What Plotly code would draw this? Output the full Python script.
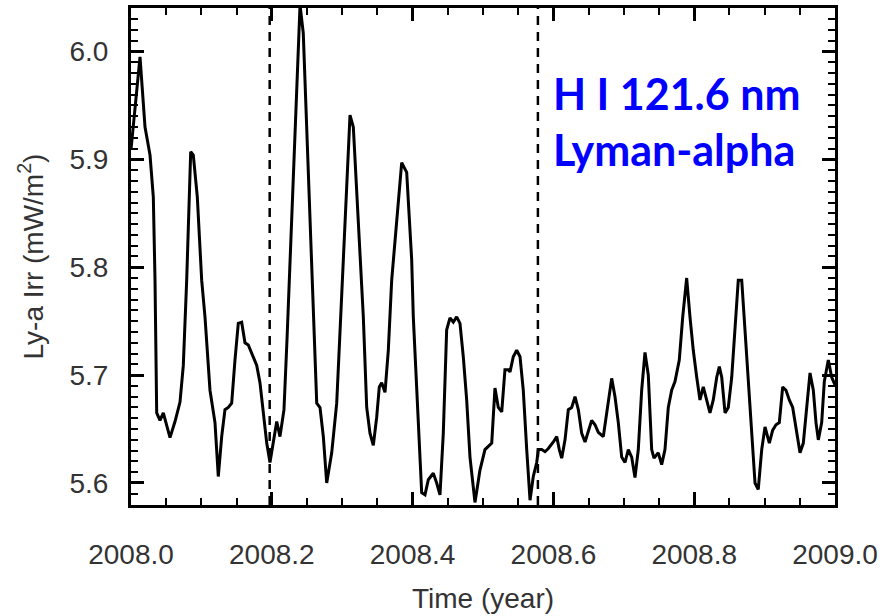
import plotly.graph_objects as go

# Time offsets from 2008.0 (years) and Lyman-alpha irradiance (mW/m^2)
t_offset = [
    0.000, 0.0128, 0.0199, 0.0270, 0.0317, 0.0341, 0.0365, 0.0412, 0.0459, 0.0507,
    0.0554, 0.0625, 0.0696, 0.0743, 0.0791, 0.0848, 0.0885, 0.0942, 0.1004, 0.1051,
    0.1122, 0.1193, 0.1240, 0.1288, 0.1335, 0.1382, 0.1430, 0.1477, 0.1524, 0.1572,
    0.1619, 0.1666, 0.1737, 0.1786, 0.1832, 0.1879, 0.1928, 0.1974, 0.2021, 0.2070,
    0.2116, 0.2173, 0.2216, 0.2259, 0.2401, 0.2447, 0.2496, 0.2567, 0.2590, 0.2638,
    0.2685, 0.2732, 0.2780, 0.2851, 0.2922, 0.2969, 0.3016, 0.3111, 0.3158, 0.3253,
    0.3300, 0.3348, 0.3395, 0.3442, 0.3490, 0.3527, 0.3561, 0.3608, 0.3655, 0.3703,
    0.3845, 0.3916, 0.3987, 0.4010, 0.4081, 0.4129, 0.4176, 0.4223, 0.4294, 0.4342,
    0.4389, 0.4436, 0.4484, 0.4531, 0.4578, 0.4626, 0.4673, 0.4720, 0.4768, 0.4815,
    0.4886, 0.4957, 0.5028, 0.5089, 0.5124, 0.5170, 0.5217, 0.5266, 0.5312, 0.5359,
    0.5384, 0.5430, 0.5479, 0.5526, 0.5572, 0.5621, 0.5668, 0.5714, 0.5763, 0.5786,
    0.5834, 0.5881, 0.5928, 0.5999, 0.6047, 0.6084, 0.6118, 0.6165, 0.6212, 0.6260,
    0.6307, 0.6354, 0.6402, 0.6449, 0.6496, 0.6544, 0.6591, 0.6638, 0.6709, 0.6757,
    0.6828, 0.6875, 0.6922, 0.6970, 0.7017, 0.7064, 0.7112, 0.7159, 0.7206, 0.7254,
    0.7301, 0.7348, 0.7396, 0.7429, 0.7490, 0.7538, 0.7585, 0.7632, 0.7680, 0.7727,
    0.7788, 0.7837, 0.7893, 0.7940, 0.7987, 0.8036, 0.8082, 0.8129, 0.8178, 0.8224,
    0.8271, 0.8320, 0.8357, 0.8391, 0.8438, 0.8484, 0.8533, 0.8580, 0.8626, 0.8675,
    0.8722, 0.8768, 0.8817, 0.8864, 0.8910, 0.8959, 0.9006, 0.9067, 0.9115, 0.9162,
    0.9209, 0.9257, 0.9304, 0.9351, 0.9399, 0.9446, 0.9503, 0.9550, 0.9598, 0.9645,
    0.9692, 0.9730, 0.9763, 0.9811, 0.9848, 0.9905, 0.9953, 1.0000,
]
irradiance = [
    5.909, 5.995, 5.930, 5.904, 5.865, 5.788, 5.665, 5.658, 5.665, 5.652,
    5.642, 5.657, 5.675, 5.709, 5.788, 5.907, 5.904, 5.865, 5.788, 5.754,
    5.686, 5.656, 5.606, 5.643, 5.668, 5.670, 5.674, 5.714, 5.748, 5.749,
    5.730, 5.728, 5.717, 5.709, 5.693, 5.668, 5.637, 5.619, 5.637, 5.657,
    5.643, 5.668, 5.733, 5.807, 6.043, 6.017, 5.925, 5.807, 5.754, 5.674,
    5.670, 5.643, 5.600, 5.628, 5.674, 5.739, 5.816, 5.941, 5.930, 5.811,
    5.754, 5.670, 5.646, 5.635, 5.661, 5.689, 5.693, 5.684, 5.723, 5.788,
    5.897, 5.888, 5.807, 5.754, 5.661, 5.591, 5.589, 5.603, 5.609, 5.600,
    5.589, 5.646, 5.742, 5.753, 5.749, 5.754, 5.748, 5.717, 5.677, 5.624,
    5.582, 5.612, 5.631, 5.635, 5.637, 5.688, 5.670, 5.666, 5.705, 5.705,
    5.703, 5.717, 5.723, 5.717, 5.686, 5.631, 5.584, 5.606, 5.619, 5.631,
    5.631, 5.629, 5.632, 5.638, 5.643, 5.631, 5.623, 5.640, 5.668, 5.670,
    5.680, 5.668, 5.646, 5.638, 5.649, 5.658, 5.654, 5.647, 5.643, 5.665,
    5.697, 5.680, 5.656, 5.624, 5.619, 5.631, 5.624, 5.605, 5.631, 5.686,
    5.721, 5.700, 5.631, 5.623, 5.628, 5.617, 5.631, 5.670, 5.686, 5.694,
    5.714, 5.754, 5.790, 5.754, 5.723, 5.698, 5.677, 5.689, 5.677, 5.665,
    5.677, 5.698, 5.708, 5.698, 5.665, 5.670, 5.698, 5.745, 5.788, 5.788,
    5.739, 5.698, 5.646, 5.600, 5.594, 5.631, 5.652, 5.637, 5.649, 5.654,
    5.656, 5.689, 5.686, 5.677, 5.670, 5.649, 5.628, 5.637, 5.670, 5.702,
    5.686, 5.656, 5.640, 5.656, 5.694, 5.714, 5.698, 5.691,
]
start_year = 2008.0
time_year = [start_year + d for d in t_offset]

event_times = [2008.197, 2008.578]
x_ticks = [2008.0, 2008.2, 2008.4, 2008.6, 2008.8, 2009.0]
x_tick_labels = ["2008.0", "2008.2", "2008.4", "2008.6", "2008.8", "2009.0"]
y_ticks = [5.6, 5.7, 5.8, 5.9, 6.0]
y_tick_labels = ["5.6", "5.7", "5.8", "5.9", "6.0"]
x_range = [2008.0, 2009.0]
y_range = [5.5796, 6.0403]

fig = go.Figure()
fig.add_trace(go.Scatter(
    x=time_year, y=irradiance, mode="lines",
    line=dict(color="black", width=3), showlegend=False,
))
# invisible trace so the mirrored top/right axes are drawn
fig.add_trace(go.Scatter(
    x=[x_range[0]], y=[y_range[0]], xaxis="x2", yaxis="y2", mode="markers",
    marker=dict(opacity=0), showlegend=False, hoverinfo="skip",
))

for et in event_times:
    fig.add_shape(type="line", xref="x", yref="paper", x0=et, x1=et, y0=0, y1=1,
                  line=dict(color="black", width=2.5, dash="9px,7px"))

label_font = dict(family="Liberation Sans, Arial, sans-serif", size=28, color="#333333")
title_font = dict(family="Liberation Sans, Arial, sans-serif", size=28, color="#333333")

fig.add_annotation(
    x=0.596, y=0.772, xref="paper", yref="paper", xanchor="left", yanchor="middle",
    text="<b>H I 121.6 nm<br>Lyman-alpha</b>", showarrow=False, align="left",
    font=dict(family="Lato, Open Sans, sans-serif", size=43, color="#0000FF"),
)

axis_common = dict(
    showline=True, linewidth=3, linecolor="black",
    ticks="inside", ticklen=13, tickwidth=2.5, tickcolor="black",
    showgrid=False, zeroline=False, tickfont=label_font,
)

fig.update_layout(
    xaxis=dict(
        range=x_range, tickvals=x_ticks, ticktext=x_tick_labels,
        minor=dict(dtick=0.05, ticks="inside", ticklen=7, tickwidth=2, tickcolor="black"),
        ticklabelstandoff=22,
        title=dict(text="Time (year)", font=title_font, standoff=20),
        **axis_common,
    ),
    yaxis=dict(
        range=y_range, tickvals=y_ticks, ticktext=y_tick_labels,
        minor=dict(dtick=0.01, ticks="inside", ticklen=7, tickwidth=2, tickcolor="black"),
        ticklabelstandoff=14,
        title=dict(text="Ly-a Irr (mW/m<sup>2</sup>)", font=title_font, standoff=18),
        **axis_common,
    ),
    xaxis2=dict(
        range=x_range, overlaying="x", side="top", anchor="y2",
        tickvals=x_ticks, showticklabels=False,
        minor=dict(dtick=0.05, ticks="inside", ticklen=7, tickwidth=2, tickcolor="black"),
        **axis_common,
    ),
    yaxis2=dict(
        range=y_range, overlaying="y", side="right", anchor="x2",
        tickvals=y_ticks, showticklabels=False,
        minor=dict(dtick=0.01, ticks="inside", ticklen=7, tickwidth=2, tickcolor="black"),
        **axis_common,
    ),
    width=885, height=616,
    margin=dict(l=131, r=50, t=8, b=111, autoexpand=False),
    plot_bgcolor="white", paper_bgcolor="white",
)

fig.write_html("out.html")
